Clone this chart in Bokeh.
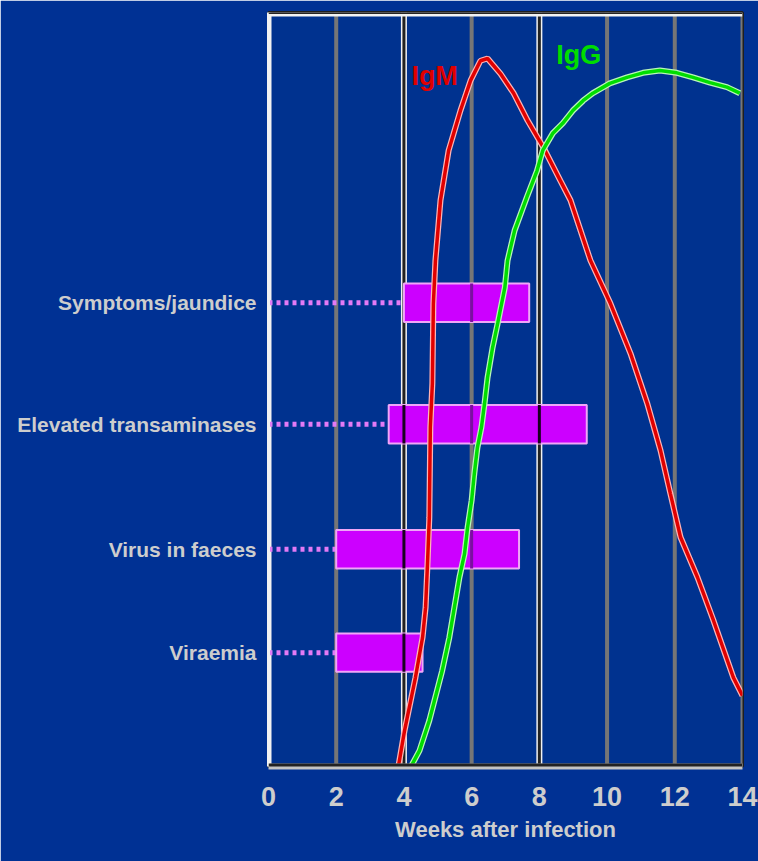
from bokeh.plotting import figure
from bokeh.models import Range1d, Span, Label, FixedTicker
from bokeh.embed import file_html
from bokeh.resources import INLINE

# ---- data ----
weeks_ticks = [0, 2, 4, 6, 8, 10, 12, 14]

categories = ["Symptoms/jaundice", "Elevated transaminases", "Virus in faeces", "Viraemia"]
cat_y = [61.5, 45.4, 28.8, 15.1]          # vertical position (antibody-level scale)
bar_start = [4.0, 3.55, 2.0, 2.0]        # weeks
bar_end = [7.7, 9.4, 7.4, 4.55]          # weeks

igm_x = [3.84, 4.02, 4.34, 4.55, 4.64, 4.70, 4.75, 4.78, 4.84, 4.87, 4.93, 5.08, 5.32,
         5.67, 5.97, 6.26, 6.47, 6.85, 7.24, 7.65, 8.12, 8.62, 8.92, 9.51, 10.10,
         10.69, 11.19, 11.58, 11.87, 12.17, 12.67, 13.14, 13.73, 14.0]
igm_y = [0.1, 4.8, 11.8, 17.1, 21.1, 27.3, 33.0, 45.0, 50.8, 61.4, 67.1, 75.1, 81.7,
         87.0, 91.0, 93.6, 93.9, 91.9, 89.3, 85.7, 82.1, 77.7, 75.1, 67.1, 61.4,
         54.8, 48.1, 41.9, 36.2, 30.4, 25.1, 19.4, 11.8, 9.4]

igg_x = [4.22, 4.46, 4.75, 5.13, 5.34, 5.49, 5.64, 5.79, 5.88, 6.00, 6.08, 6.17, 6.29,
         6.38, 6.47, 6.62, 6.77, 6.98, 7.06, 7.27, 7.63, 7.93, 8.10, 8.40, 8.69, 8.99,
         9.29, 9.58, 10.08, 10.59, 11.06, 11.56, 12.06, 12.54, 13.04, 13.54, 13.92]
igg_y = [0.1, 2.1, 6.1, 12.7, 17.1, 21.1, 25.1, 28.2, 31.7, 35.3, 38.9, 42.3, 45.0,
         48.1, 51.6, 55.6, 58.8, 63.5, 67.1, 71.1, 75.5, 79.0, 81.7, 84.0, 85.3, 87.0,
         88.3, 89.3, 90.6, 91.4, 92.0, 92.3, 92.0, 91.4, 90.7, 90.1, 89.3]

x_label = "Weeks after infection"

# ---- styling ----
BG = "#00328F"
FONT = "'Liberation Sans', Arial, sans-serif"
TXT = "#CDCDCD"
BAR_H = 5.1
DARK_TICKS = (0, 4, 8)

p = figure(width=758, height=861, output_backend="svg", toolbar_location=None,
           x_range=Range1d(0, 14), y_range=Range1d(0, 100),
           min_border_left=268, min_border_right=16, min_border_top=12,
           min_border_bottom=95)
p.background_fill_color = BG
p.border_fill_color = "#003194"
p.outline_line_color = "#1E1E1E"
p.outline_line_width = 3
p.xgrid.grid_line_color = None
p.ygrid.grid_line_color = None

# vertical grid lines at every tick
for t in weeks_ticks:
    if t in DARK_TICKS:
        p.add_layout(Span(location=t, dimension="height", line_color="#F2F2F2", line_width=6, level="underlay"))
        p.add_layout(Span(location=t, dimension="height", line_color="#222222", line_width=3, level="underlay"))
    else:
        p.add_layout(Span(location=t, dimension="height", line_color="#767676", line_width=4, level="underlay"))
p.add_layout(Span(location=100, dimension="width", line_color="#F2F2F2", line_width=8))
p.add_layout(Span(location=100, dimension="width", line_color="#222222", line_width=3))
p.add_layout(Span(location=0, dimension="width", line_color="#222222", line_width=6))

# dotted leaders from axis to the bar start
p.segment(x0=[0] * len(categories), x1=bar_start, y0=cat_y, y1=cat_y,
          line_color="#E37AF5", line_width=5, line_dash="4 4")

# bars
p.hbar(y=cat_y, left=bar_start, right=bar_end, height=BAR_H,
       fill_color="#CC00FF", line_color="#EFA6F7", line_width=2)

# grid lines showing through the bars
gx, gy0, gy1, gc = [], [], [], []
for y, s, e in zip(cat_y, bar_start, bar_end):
    for t in weeks_ticks:
        if s < t < e:
            gx.append(t)
            gy0.append(y - BAR_H / 2)
            gy1.append(y + BAR_H / 2)
            gc.append("#1A0020" if t in DARK_TICKS else "#7A10A0")
p.segment(x0=gx, x1=gx, y0=gy0, y1=gy1, line_color=gc, line_width=3)

# antibody curves
p.line(igm_x, igm_y, line_color="#FFB4B4", line_width=6)
p.line(igm_x, igm_y, line_color="#E00000", line_width=3.5)
p.line(igg_x, igg_y, line_color="#B8F5B8", line_width=6)
p.line(igg_x, igg_y, line_color="#00DD00", line_width=3.5)

p.add_layout(Label(x=4.22, y=89.6, text="IgM", text_color="#E00000",
                   text_font=FONT, text_font_size="27px", text_font_style="bold"))
p.add_layout(Label(x=8.5, y=92.4, text="IgG", text_color="#00DD00",
                   text_font=FONT, text_font_size="27px", text_font_style="bold"))

# y axis: category labels
ya = p.yaxis[0]
ya.ticker = FixedTicker(ticks=cat_y)
ya.major_label_overrides = {y: c for y, c in zip(cat_y, categories)}
ya.major_tick_line_color = None
ya.minor_tick_line_color = None
ya.axis_line_color = "#F2F2F2"
ya.axis_line_width = 3
ya.major_label_standoff = 6
ya.major_label_text_font = FONT
ya.major_label_text_font_size = "21px"
ya.major_label_text_font_style = "bold"
ya.major_label_text_color = TXT

# x axis
xa = p.xaxis[0]
xa.ticker = FixedTicker(ticks=weeks_ticks)
xa.axis_label = x_label
xa.major_tick_line_color = None
xa.minor_tick_line_color = None
xa.axis_line_color = "#C4C4C4"
xa.axis_line_width = 6
xa.major_label_standoff = 14
xa.major_label_text_font = FONT
xa.major_label_text_font_size = "27px"
xa.major_label_text_font_style = "bold"
xa.major_label_text_color = TXT
xa.axis_label_standoff = 8
xa.axis_label_text_font = FONT
xa.axis_label_text_font_size = "22px"
xa.axis_label_text_font_style = "bold"
xa.axis_label_text_color = TXT

open("out.html", "w").write(file_html(p, INLINE))
